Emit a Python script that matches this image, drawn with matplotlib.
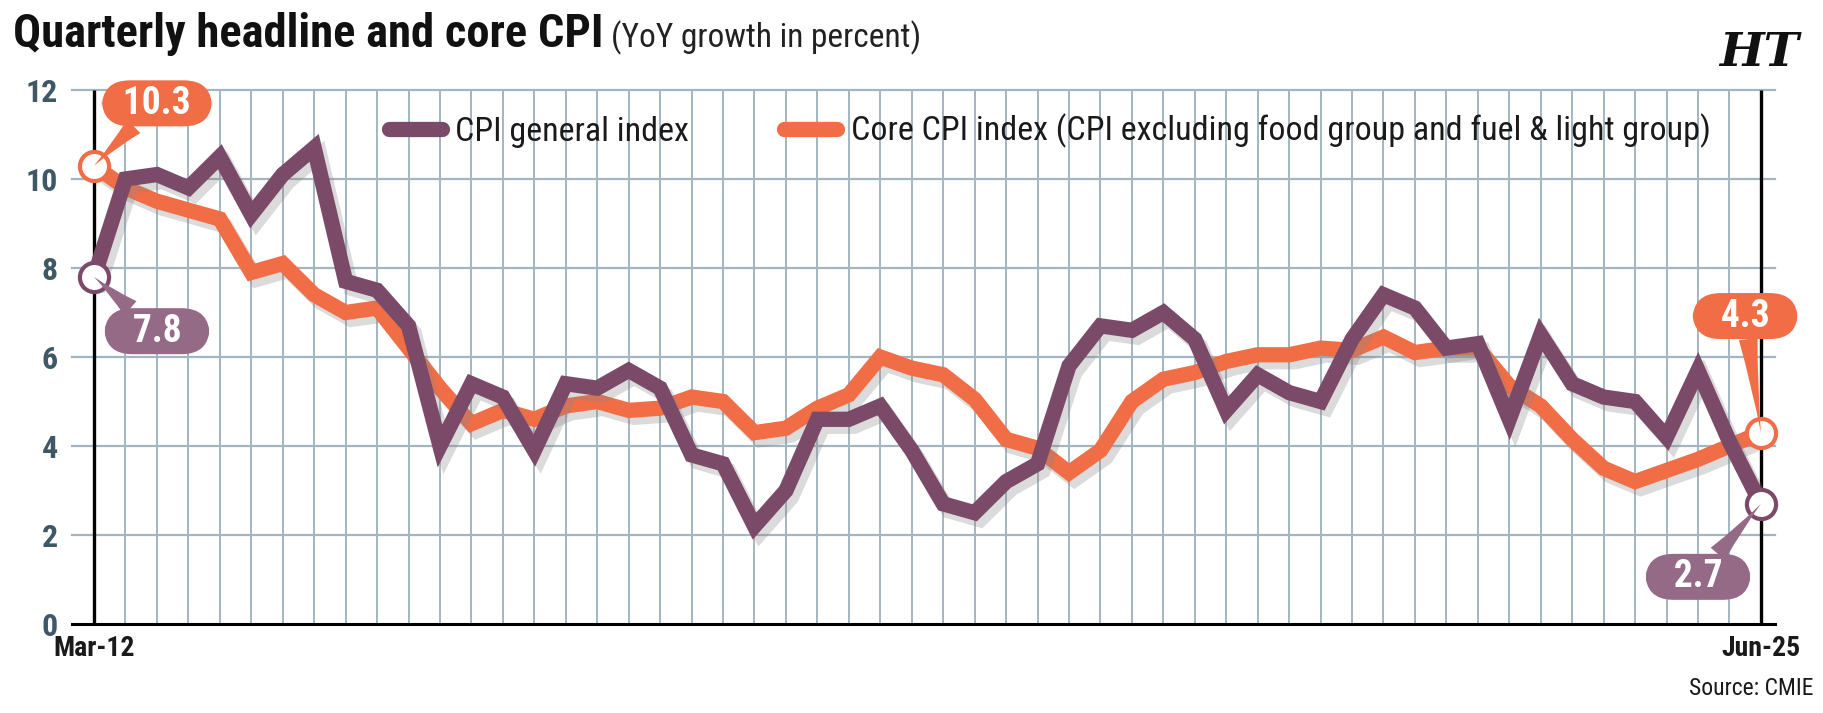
import numpy as np
import matplotlib
matplotlib.use("Agg")
import matplotlib.pyplot as plt
import matplotlib.patheffects as pe
from matplotlib.lines import Line2D
from matplotlib import font_manager as fm

# Quarterly YoY growth, Mar-12 .. Jun-25
quarters = np.arange(54)
tick_labels = ["Mar-12", "Jun-25"]
cpi_general = [7.8, 10.0, 10.1, 9.8, 10.5, 9.2, 10.1, 10.7, 7.7, 7.5, 6.7, 4.0,
               5.4, 5.1, 3.9, 5.4, 5.3, 5.7, 5.3, 3.8, 3.6, 2.2,
               3.0, 4.6, 4.6, 4.9, 3.9, 2.7, 2.5, 3.2, 3.6, 5.8, 6.7,
               6.6, 7.0, 6.4, 4.8, 5.6, 5.2, 5.0, 6.4, 7.4, 7.1, 6.2,
               6.3, 4.6, 6.5, 5.4, 5.1, 5.0, 4.2, 5.7, 4.1, 2.7]
core_cpi = [10.3, 9.8, 9.5, 9.3, 9.1, 7.9, 8.1, 7.4, 7.0, 7.1, 6.2, 5.3,
            4.5, 4.8, 4.6, 4.9, 5.0, 4.8, 4.85, 5.1, 5.0, 4.3,
            4.4, 4.85, 5.15, 6.0, 5.75, 5.6, 5.05, 4.15, 3.95, 3.4, 3.9,
            5.0, 5.5, 5.65, 5.9, 6.05, 6.05, 6.2, 6.15, 6.45, 6.1, 6.2,
            6.2, 5.35, 4.9, 4.15, 3.5, 3.2, 3.45, 3.7, 4.0, 4.3]
series_names = ["CPI general index",
                "Core CPI index (CPI excluding food group and fuel & light group)"]

PURPLE = "#7b4a68"
PURPLE_LIGHT = "#946a86"
ORANGE = "#f06d45"
GRID = "#a3b5c1"
SLATE = "#3f5868"

# pick a condensed font if one is installed
names = {f.name for f in fm.fontManager.ttflist}
cond = next((n for n in ["Roboto Condensed", "Liberation Sans Narrow",
                         "Open Sans Condensed", "DejaVu Sans Condensed"] if n in names), None)
if cond:
    FONT = dict(family=[cond, "DejaVu Sans"])
else:
    FONT = dict(family=["DejaVu Sans"], stretch="condensed")

fig = plt.figure(figsize=(18.23, 7.13), dpi=100)
fig.patch.set_facecolor("white")
ax = fig.add_axes([0.0395, 0.1248, 0.9342, 0.749])
ax.set_xlim(-0.7, 53.45)
ax.set_ylim(0, 12)

# grid
for y in range(2, 13, 2):
    ax.axhline(y, color=GRID, lw=1.6, zorder=1, clip_on=False)
ax.vlines(quarters, 0, 12, color=GRID, lw=1.4, zorder=1)
ax.vlines([quarters[0], quarters[-1]], 0, 12, color="black", lw=2.4, zorder=2)
ax.axhline(0, color="black", lw=2.2, zorder=2, clip_on=False)
for s in ax.spines.values():
    s.set_visible(False)

shadow = [pe.SimpleLineShadow(offset=(4, -5), shadow_color="#888888", alpha=0.3),
          pe.Normal()]
ax.plot(quarters, core_cpi, color=ORANGE, lw=11, solid_joinstyle="miter",
        zorder=3, path_effects=shadow)
ax.plot(quarters, cpi_general, color=PURPLE, lw=11, solid_joinstyle="miter",
        zorder=4, path_effects=shadow)

# end markers
for x, y, c in [(quarters[0], core_cpi[0], ORANGE), (quarters[-1], core_cpi[-1], ORANGE),
                (quarters[0], cpi_general[0], PURPLE), (quarters[-1], cpi_general[-1], PURPLE)]:
    ax.plot([x], [y], "o", ms=21, mfc="white", mec=c, mew=3, zorder=6, clip_on=False)

# callouts
callouts = [(quarters[0], core_cpi[0], 2.0, 11.7, ORANGE),
            (quarters[0], cpi_general[0], 2.0, 6.58, PURPLE_LIGHT),
            (quarters[-1], core_cpi[-1], 52.5, 6.92, ORANGE),
            (quarters[-1], cpi_general[-1], 51.0, 1.06, PURPLE_LIGHT)]
for x, y, tx, ty, c in callouts:
    pad = "\u2002" if y >= 10 else "\u2002\u2009"
    ax.annotate(f"{pad}{y:.1f}{pad}", xy=(x, y), xytext=(tx, ty), ha="center", va="center",
                color="white", fontsize=27, fontweight="bold", zorder=7,
                annotation_clip=False, **FONT,
                bbox=dict(boxstyle="round,pad=0.12,rounding_size=0.75", fc=c, ec="none"),
                arrowprops=dict(arrowstyle="wedge,tail_width=0.5,shrink_factor=0.4",
                                fc=c, ec="none", shrinkA=0, shrinkB=0))

# ticks
ax.set_yticks(range(0, 13, 2))
ax.set_yticklabels([str(v) for v in range(0, 13, 2)], fontsize=23, fontweight="bold",
                   color=SLATE, **FONT)
ax.set_xticks([quarters[0], quarters[-1]])
ax.set_xticklabels(tick_labels, fontsize=20, fontweight="bold", color="#1a1a1a", **FONT)
ax.tick_params(length=0)
ax.tick_params(axis="y", pad=10)
ax.tick_params(axis="x", pad=8)

# legend
handles = [Line2D([], [], color=PURPLE, lw=11, solid_capstyle="round"),
           Line2D([], [], color=ORANGE, lw=11, solid_capstyle="round")]
leg = ax.legend(handles, series_names, loc="center left", bbox_to_anchor=(0.178, 0.923),
                ncol=2, frameon=False, handlelength=1.55, handletextpad=0.4,
                columnspacing=2.8, borderaxespad=0,
                prop=fm.FontProperties(size=24.5, **FONT))
for t in leg.get_texts():
    t.set_color("#1a1a1a")

# title
title = fig.text(0.007, 0.934, "Quarterly headline and core CPI", fontsize=33.5,
                 fontweight="bold", color="#111111", va="baseline", **FONT)
fig.canvas.draw()
bb = title.get_window_extent()
fig.text(bb.x1 / fig.bbox.width + 0.004, 0.934, "(YoY growth in percent)", fontsize=24,
         color="#222222", va="baseline", **FONT)
fig.text(0.987, 0.925, "HT", fontsize=34, fontweight="bold", fontstyle="italic",
         family="DejaVu Serif", ha="right", va="center", color="#111111")
fig.text(0.995, 0.035, "Source: CMIE", fontsize=17, color="#1a1a1a", ha="right",
         va="center", **FONT)

fig.savefig("out.png", dpi=100, facecolor="white")
